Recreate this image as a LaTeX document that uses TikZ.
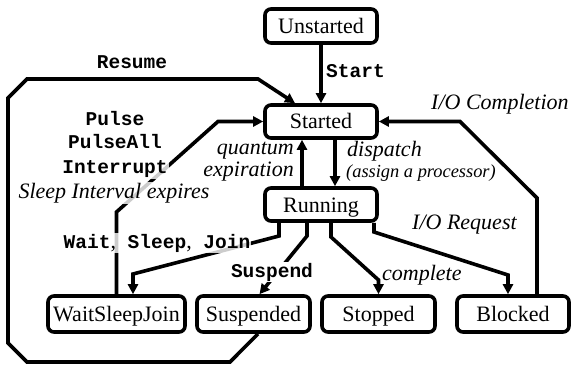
\documentclass[tikz,border=0pt]{standalone}
\usepackage{fontspec}
\setmainfont{Liberation Serif}
\setmonofont{Liberation Mono}
\usetikzlibrary{arrows.meta}
\begin{document}
\begin{tikzpicture}[x=1pt,y=-1pt,
  box/.style={draw,line width=3.6pt,rounded corners=6pt,fill=white,inner sep=0pt,minimum height=34pt,text height=17pt,text depth=2pt,font=\fontsize{22}{24}\selectfont},
  arr/.style={line width=3.6pt,-{Triangle[length=10pt,width=10pt]}},
  lbl/.style={inner sep=1pt,font=\fontsize{22}{24}\selectfont\itshape},
  small/.style={inner sep=1pt,font=\fontsize{18.4}{20}\selectfont\itshape},
  cmd/.style={inner sep=1pt,font=\fontsize{19.5}{22}\selectfont\ttfamily\bfseries},
  veil/.style={fill=white,fill opacity=0.8,text opacity=1}
]
\useasboundingbox[fill=white] (0,0) rectangle (575,366);
% states
\node[box,minimum width=112pt] (Unstarted) at (321,26) {Unstarted};
\node[box,minimum width=112pt,minimum height=33pt] (Started) at (321,121.5) {Started};
\node[box,minimum width=112pt,minimum height=33pt] (Running) at (321,204.5) {Running};
\node[box,minimum width=137pt,minimum height=36pt] (WSJ) at (116.5,314) {WaitSleepJoin};
\node[box,minimum width=113pt,minimum height=36pt] (Suspended) at (253.5,314) {Suspended};
\node[box,minimum width=113pt,minimum height=36pt] (Stopped) at (378.5,314) {Stopped};
\node[box,minimum width=112pt,minimum height=36pt] (Blocked) at (513,314) {Blocked};
% connectors
\draw[arr] (Unstarted) -- (Started);
\draw[arr] ([xshift=4.5pt]Suspended.south) -- (230,362) -- (27,362) -- (8,343) -- (8,98) -- (27,79) -- (258,79) -- ([xshift=-26pt]Started.north);
\draw[arr] (WSJ.north) -- (116.5,212) -- (218,121.5) -- (Started.west);
\draw[arr] ([xshift=-19pt]Running.north) -- ([xshift=-19pt]Started.south);
\draw[arr] ([xshift=14pt]Started.south) -- ([xshift=14pt]Running.north);
\draw[arr] ([xshift=-42pt]Running.south) -- (279,236) -- (133,274) -- ([xshift=16.5pt]WSJ.north);
\draw[arr] ([xshift=-14pt]Running.south) -- (307,236) -- ([xshift=6pt]Suspended.north);
\draw[arr] ([xshift=10pt]Running.south) -- (331,237) -- (378.5,280) -- (Stopped.north);
\draw[arr] ([xshift=53pt]Running.south) -- (374,232) -- (508,275) -- ([xshift=-5pt]Blocked.north);
\draw[arr] ([xshift=24pt]Blocked.north) -- (537,198) -- (460,121.5) -- (Started.east);
% labels
\node[cmd,anchor=base west] (lStart) at (325,78) {Start};
\node[cmd,anchor=base] (lResume) at (132,69) {Resume};
\node[cmd,veil,anchor=base] (lPulse) at (115,126) {Pulse};
\node[cmd,veil,anchor=base] (lPulseAll) at (115,149) {PulseAll};
\node[cmd,veil,anchor=base] (lInterrupt) at (115,174) {Interrupt};
\node[lbl,veil,anchor=base] (lSleep) at (114,198) {Sleep Interval expires};
\node[lbl,anchor=base east] (lQuantum) at (295,155) {quantum};
\node[lbl,anchor=base east] (lExp) at (295,177) {expiration};
\node[lbl,anchor=base west] (lDispatch) at (346,157) {dispatch};
\node[small,anchor=base west] (lAssign) at (345,178) {(assign a processor)};
\node[lbl,anchor=base west] (lIOC) at (430,110) {I/O Completion};
\node[lbl,anchor=base west] (lIOR) at (411,229) {I/O Request};
\node[lbl,anchor=base west] (lComplete) at (381,280) {complete};
\node[cmd,fill=white,anchor=base] (lSuspend) at (272,277) {Suspend};
\node[cmd,veil,anchor=base] (lWait) at (157,248) {Wait{\rmfamily\mdseries\fontsize{22}{24}\selectfont,} Sleep{\rmfamily\mdseries\fontsize{22}{24}\selectfont,} Join};
\end{tikzpicture}
\end{document}
